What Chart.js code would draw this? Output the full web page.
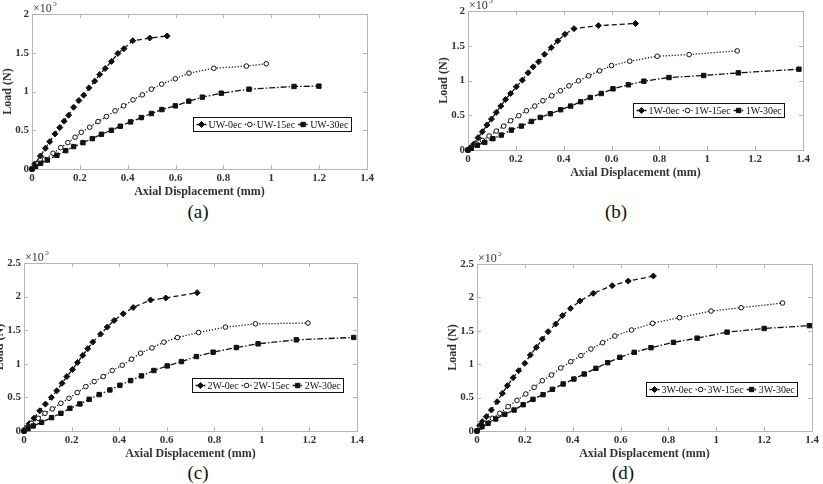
<!DOCTYPE html>
<html>
<head>
<meta charset="utf-8">
<title>Load - Axial displacement</title>
<script src="https://cdn.jsdelivr.net/npm/chart.js@4.4.1/dist/chart.umd.min.js"></script>
<style>
  body { margin: 0; width: 823px; height: 484px; position: relative; overflow: hidden; background: #fff; }
  canvas { position: absolute; }
  .cap { position: absolute; font: 19px "Liberation Serif", serif; color: #111; transform: translate(-50%, -50%); }
</style>
</head>
<body>
<canvas id="chartA"></canvas>
<canvas id="chartB"></canvas>
<canvas id="chartC"></canvas>
<canvas id="chartD"></canvas>
<div class="cap" style="left:198px;top:212px">(a)</div>
<div class="cap" style="left:616px;top:212px">(b)</div>
<div class="cap" style="left:198px;top:473px">(c)</div>
<div class="cap" style="left:623px;top:473px">(d)</div>
<script>
// tick values (load axis is in units of 10^5 N)
var dispTicks = [0, 0.2, 0.4, 0.6, 0.8, 1, 1.2, 1.4];
var loadTicks2 = [0, 0.5, 1, 1.5, 2];
var loadTicks25 = [0, 0.5, 1, 1.5, 2, 2.5];

var namesA = ['UW-0ec', 'UW-15ec', 'UW-30ec'];
var namesB = ['1W-0ec', '1W-15ec', '1W-30ec'];
var namesC = ['2W-0ec', '2W-15ec', '2W-30ec'];
var namesD = ['3W-0ec', '3W-15ec', '3W-30ec'];

// (a) UW
var uw0Disp = [0, 0.011, 0.035, 0.056, 0.074, 0.096, 0.116, 0.134, 0.153, 0.174, 0.196, 0.216, 0.238, 0.262, 0.283, 0.306, 0.332, 0.359, 0.384, 0.421, 0.492, 0.565];
var uw0Load = [0, 0.065, 0.168, 0.267, 0.353, 0.453, 0.534, 0.616, 0.694, 0.797, 0.884, 0.953, 1.047, 1.134, 1.22, 1.297, 1.388, 1.491, 1.552, 1.655, 1.69, 1.716];
var uw15Disp = [0, 0.01, 0.025, 0.053, 0.088, 0.12, 0.15, 0.18, 0.206, 0.241, 0.276, 0.311, 0.347, 0.383, 0.422, 0.461, 0.499, 0.542, 0.599, 0.656, 0.76, 0.896, 0.979];
var uw15Load = [0, 0.034, 0.073, 0.125, 0.203, 0.276, 0.34, 0.41, 0.474, 0.539, 0.612, 0.677, 0.75, 0.815, 0.892, 0.957, 1.03, 1.095, 1.164, 1.237, 1.3, 1.328, 1.358];
var uw30Disp = [0, 0.015, 0.036, 0.064, 0.104, 0.141, 0.174, 0.213, 0.252, 0.29, 0.332, 0.369, 0.412, 0.457, 0.499, 0.543, 0.599, 0.655, 0.712, 0.791, 0.907, 1.095, 1.199];
var uw30Load = [0, 0.034, 0.073, 0.116, 0.177, 0.237, 0.289, 0.34, 0.392, 0.448, 0.5, 0.552, 0.608, 0.664, 0.716, 0.767, 0.815, 0.875, 0.927, 0.978, 1.03, 1.065, 1.069];

// (b) 1W
var w1_0Disp = [0, 0.01, 0.024, 0.042, 0.06, 0.079, 0.098, 0.118, 0.137, 0.157, 0.178, 0.202, 0.227, 0.251, 0.272, 0.295, 0.32, 0.348, 0.375, 0.405, 0.443, 0.545, 0.7];
var w1_0Load = [0, 0.033, 0.086, 0.177, 0.263, 0.359, 0.445, 0.541, 0.632, 0.727, 0.813, 0.909, 1.005, 1.11, 1.196, 1.268, 1.378, 1.474, 1.57, 1.665, 1.746, 1.79, 1.82];
var w1_15Disp = [0, 0.014, 0.035, 0.06, 0.088, 0.118, 0.149, 0.178, 0.212, 0.244, 0.279, 0.313, 0.35, 0.386, 0.422, 0.462, 0.504, 0.55, 0.6, 0.676, 0.791, 0.924, 1.125];
var w1_15Load = [0, 0.033, 0.086, 0.139, 0.201, 0.273, 0.344, 0.421, 0.493, 0.565, 0.632, 0.708, 0.78, 0.852, 0.923, 0.995, 1.067, 1.139, 1.215, 1.278, 1.349, 1.373, 1.426];
var w1_30Disp = [0, 0.014, 0.039, 0.07, 0.104, 0.139, 0.181, 0.223, 0.265, 0.302, 0.344, 0.387, 0.429, 0.471, 0.511, 0.557, 0.606, 0.67, 0.735, 0.84, 0.985, 1.13, 1.383];
var w1_30Load = [0, 0.024, 0.067, 0.11, 0.163, 0.215, 0.287, 0.344, 0.411, 0.469, 0.522, 0.579, 0.632, 0.694, 0.756, 0.813, 0.88, 0.938, 0.99, 1.043, 1.072, 1.11, 1.163];

// (c) 2W
var w2_0Disp = [0, 0.01, 0.022, 0.042, 0.066, 0.09, 0.115, 0.138, 0.16, 0.18, 0.204, 0.225, 0.247, 0.268, 0.289, 0.322, 0.35, 0.379, 0.417, 0.459, 0.532, 0.596, 0.728];
var w2_0Load = [0, 0.05, 0.11, 0.19, 0.3, 0.4, 0.5, 0.6, 0.71, 0.81, 0.915, 1.02, 1.125, 1.225, 1.323, 1.442, 1.546, 1.645, 1.744, 1.838, 1.949, 1.979, 2.058];
var w2_15Disp = [0, 0.011, 0.032, 0.06, 0.088, 0.119, 0.155, 0.189, 0.224, 0.26, 0.295, 0.333, 0.371, 0.413, 0.452, 0.49, 0.538, 0.588, 0.645, 0.734, 0.847, 0.973, 1.194];
var w2_15Load = [0, 0.05, 0.114, 0.189, 0.263, 0.328, 0.413, 0.487, 0.572, 0.661, 0.736, 0.81, 0.9, 0.979, 1.069, 1.158, 1.237, 1.322, 1.391, 1.466, 1.546, 1.595, 1.606];
var w2_30Disp = [0, 0.017, 0.039, 0.074, 0.116, 0.155, 0.193, 0.235, 0.274, 0.316, 0.361, 0.403, 0.448, 0.494, 0.546, 0.602, 0.662, 0.725, 0.795, 0.893, 0.984, 1.145, 1.386];
var w2_30Load = [0, 0.035, 0.075, 0.129, 0.199, 0.263, 0.338, 0.403, 0.472, 0.542, 0.611, 0.681, 0.75, 0.82, 0.9, 0.969, 1.033, 1.108, 1.173, 1.242, 1.297, 1.357, 1.392];

// (d) 3W
var w3_0Disp = [0, 0.011, 0.022, 0.039, 0.06, 0.084, 0.106, 0.127, 0.151, 0.174, 0.2, 0.223, 0.248, 0.273, 0.297, 0.329, 0.357, 0.391, 0.43, 0.486, 0.565, 0.632, 0.737];
var w3_0Load = [0, 0.08, 0.14, 0.215, 0.314, 0.439, 0.564, 0.679, 0.798, 0.903, 1.013, 1.138, 1.252, 1.377, 1.487, 1.602, 1.727, 1.836, 1.946, 2.061, 2.176, 2.245, 2.32];
var w3_15Disp = [0, 0.014, 0.036, 0.064, 0.095, 0.13, 0.167, 0.204, 0.239, 0.273, 0.311, 0.35, 0.392, 0.434, 0.476, 0.525, 0.576, 0.646, 0.734, 0.846, 0.978, 1.104, 1.277];
var w3_15Load = [0, 0.055, 0.115, 0.19, 0.264, 0.364, 0.459, 0.554, 0.654, 0.753, 0.838, 0.943, 1.038, 1.128, 1.228, 1.322, 1.422, 1.512, 1.612, 1.697, 1.796, 1.846, 1.916];
var w3_30Disp = [0, 0.021, 0.046, 0.078, 0.116, 0.155, 0.193, 0.234, 0.276, 0.315, 0.36, 0.405, 0.448, 0.497, 0.546, 0.597, 0.657, 0.727, 0.821, 0.92, 1.045, 1.2, 1.389];
var w3_30Load = [0, 0.065, 0.115, 0.18, 0.25, 0.314, 0.394, 0.474, 0.544, 0.624, 0.704, 0.778, 0.853, 0.938, 1.023, 1.103, 1.178, 1.247, 1.327, 1.39, 1.48, 1.535, 1.577];

var SERIF = '"Liberation Serif", "Times New Roman", serif';

// line / marker look of the three eccentricities (0, 15, 30 mm)
var lineStyles = [
    { dash: [5, 3], marker: 'diamond', r: 3, fill: '#111' },
    { dash: [1.2, 1.8], marker: 'circle', r: 2.3, fill: '#fff' },
    { dash: [6, 2, 1.5, 2], marker: 'square', r: 2.2, fill: '#111' }
];

function drawMarker(ctx, kind, x, y, r, fill) {
    ctx.save();
    ctx.setLineDash([]);
    ctx.lineWidth = 1;
    ctx.strokeStyle = '#111';
    ctx.fillStyle = fill;
    ctx.beginPath();
    if (kind === 'diamond') {
        ctx.moveTo(x, y - r); ctx.lineTo(x + r, y); ctx.lineTo(x, y + r); ctx.lineTo(x - r, y); ctx.closePath();
    } else if (kind === 'circle') {
        ctx.arc(x, y, r, 0, Math.PI * 2);
    } else {
        ctx.rect(x - r, y - r, r * 2, r * 2);
    }
    ctx.fill();
    ctx.stroke();
    ctx.restore();
}

// MATLAB-like axes: grey box, inward ticks, x10^5 note and boxed legend
var matlabAxes = {
    id: 'matlabAxes',
    beforeDatasetsDraw: function(chart) {
        var ctx = chart.ctx, a = chart.chartArea;
        var xs = chart.scales.x, ys = chart.scales.y;
        ctx.save();
        ctx.strokeStyle = '#b4b4b4';
        ctx.lineWidth = 1;
        ctx.strokeRect(a.left + 0.5, a.top + 0.5, a.right - a.left, a.bottom - a.top);
        ctx.beginPath();
        xs.ticks.forEach(function(t) {
            var px = Math.round(xs.getPixelForValue(t.value)) + 0.5;
            ctx.moveTo(px, a.bottom); ctx.lineTo(px, a.bottom - 4);
            ctx.moveTo(px, a.top); ctx.lineTo(px, a.top + 4);
        });
        ys.ticks.forEach(function(t) {
            var py = Math.round(ys.getPixelForValue(t.value)) + 0.5;
            ctx.moveTo(a.left, py); ctx.lineTo(a.left + 4, py);
            ctx.moveTo(a.right, py); ctx.lineTo(a.right - 4, py);
        });
        ctx.stroke();
        // exponent of the load axis
        ctx.fillStyle = '#333';
        ctx.font = '12px ' + SERIF;
        ctx.textBaseline = 'alphabetic';
        ctx.fillText('\u00d710', a.left + 1, a.top - 2);
        var w = ctx.measureText('\u00d710').width;
        ctx.font = '8px ' + SERIF;
        ctx.fillText('5', a.left + 2 + w, a.top - 8);
        ctx.restore();
    },
    afterDatasetsDraw: function(chart, args, opts) {
        var ctx = chart.ctx, a = chart.chartArea;
        var sets = chart.data.datasets;
        ctx.save();
        ctx.font = '10px ' + SERIF;
        var sample = 10, pad = 3, gap = 3, h = 14;
        var total = pad * 2 + gap * (sets.length - 1);
        sets.forEach(function(ds) { total += sample + 2 + ctx.measureText(ds.label).width; });
        var x0 = Math.round(a.right - opts.gapRight - total) + 0.5;
        var y0 = Math.round(a.bottom - opts.gapBottom - h) + 0.5;
        ctx.fillStyle = '#fff';
        ctx.fillRect(x0, y0, total, h);
        ctx.strokeStyle = '#111';
        ctx.lineWidth = 1;
        ctx.strokeRect(x0, y0, Math.round(total), h);
        var x = x0 + pad, cy = y0 + h / 2;
        sets.forEach(function(ds, i) {
            var st = lineStyles[i];
            ctx.beginPath();
            ctx.setLineDash(st.dash);
            ctx.lineWidth = 1.3;
            ctx.moveTo(x, cy); ctx.lineTo(x + sample, cy);
            ctx.stroke();
            ctx.setLineDash([]);
            drawMarker(ctx, st.marker, x + sample / 2, cy, st.r, st.fill);
            x += sample + 2;
            ctx.fillStyle = '#111';
            ctx.textBaseline = 'middle';
            ctx.fillText(ds.label, x, cy + 0.5);
            x += ctx.measureText(ds.label).width + gap;
        });
        ctx.restore();
    }
};

function pointsOf(disp, load) {
    var pts = [];
    for (var i = 0; i < disp.length; i++) pts.push({ x: disp[i], y: load[i] });
    return pts;
}

function fmt(v) { return String(Math.round(v * 10) / 10); }

function makePanel(id, box, names, disps, loads, yTicks, legendGap) {
    var yw = 31, tpad = 12, rpad = 12, xh = 30;
    var canvas = document.getElementById(id);
    canvas.width = box[2] - box[0] + yw + rpad;
    canvas.height = box[3] - box[1] + tpad + xh;
    canvas.style.left = (box[0] - yw) + 'px';
    canvas.style.top = (box[1] - tpad) + 'px';

    var datasets = names.map(function(name, i) {
        var st = lineStyles[i];
        return {
            label: name,
            data: pointsOf(disps[i], loads[i]),
            borderColor: '#111',
            borderWidth: 1.3,
            borderDash: st.dash,
            tension: 0,
            clip: false,
            pointRadius: 0,
            pointHoverRadius: 0
        };
    });

    // markers drawn separately so they are not dashed
    var markers = {
        id: 'markers',
        afterDatasetsDraw: function(chart) {
            var xs = chart.scales.x, ys = chart.scales.y;
            chart.data.datasets.forEach(function(ds, i) {
                var st = lineStyles[i];
                ds.data.forEach(function(p) {
                    drawMarker(chart.ctx, st.marker, xs.getPixelForValue(p.x), ys.getPixelForValue(p.y), st.r, st.fill);
                });
            });
        }
    };

    return new Chart(canvas.getContext('2d'), {
        type: 'line',
        data: { datasets: datasets },
        options: {
            responsive: false,
            animation: false,
            layout: { padding: { top: tpad, right: rpad, left: 0, bottom: 0 } },
            plugins: {
                legend: { display: false },
                tooltip: { enabled: false },
                matlabAxes: { gapRight: legendGap[0], gapBottom: legendGap[1] }
            },
            scales: {
                x: {
                    type: 'linear',
                    min: dispTicks[0],
                    max: dispTicks[dispTicks.length - 1],
                    afterBuildTicks: function(s) { s.ticks = dispTicks.map(function(v) { return { value: v }; }); },
                    afterFit: function(s) { s.height = xh; },
                    grid: { display: false, drawTicks: false },
                    border: { display: false },
                    ticks: {
                        padding: 3, maxRotation: 0, autoSkip: false, color: '#333',
                        font: { family: SERIF, size: 11, weight: 'bold' },
                        callback: fmt
                    },
                    title: {
                        display: true, text: 'Axial Displacement (mm)', color: '#333', padding: 0,
                        font: { family: SERIF, size: 12, weight: 'bold' }
                    }
                },
                y: {
                    type: 'linear',
                    min: yTicks[0],
                    max: yTicks[yTicks.length - 1],
                    afterBuildTicks: function(s) { s.ticks = yTicks.map(function(v) { return { value: v }; }); },
                    afterFit: function(s) { s.width = yw; },
                    grid: { display: false, drawTicks: false },
                    border: { display: false },
                    ticks: {
                        padding: 3, autoSkip: false, color: '#333',
                        font: { family: SERIF, size: 11, weight: 'bold' },
                        callback: fmt
                    },
                    title: {
                        display: true, text: 'Load (N)', color: '#333', padding: 0,
                        font: { family: SERIF, size: 12, weight: 'bold' }
                    }
                }
            }
        },
        plugins: [matlabAxes, markers]
    });
}

makePanel('chartA', [32, 14, 367, 169], namesA,
    [uw0Disp, uw15Disp, uw30Disp], [uw0Load, uw15Load, uw30Load], loadTicks2, [16, 38]);
makePanel('chartB', [468, 11, 803, 150], namesB,
    [w1_0Disp, w1_15Disp, w1_30Disp], [w1_0Load, w1_15Load, w1_30Load], loadTicks2, [19, 33]);
makePanel('chartC', [24, 263, 357, 431], namesC,
    [w2_0Disp, w2_15Disp, w2_30Disp], [w2_0Load, w2_15Load, w2_30Load], loadTicks25, [14, 39]);
makePanel('chartD', [477, 264, 812, 431], namesD,
    [w3_0Disp, w3_15Disp, w3_30Disp], [w3_0Load, w3_15Load, w3_30Load], loadTicks25, [15, 35]);
</script>
</body>
</html>
